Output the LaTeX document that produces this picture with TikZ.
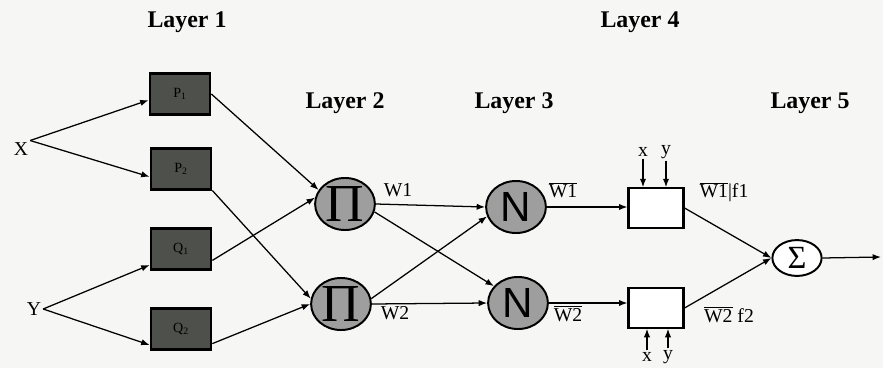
\documentclass[tikz,border=0pt]{standalone}
\usepackage{fontspec}
\setmainfont{Liberation Serif}
\newfontfamily\arialfont{Liberation Sans}
\usepackage{xcolor}
\usepackage{tikz}
\usetikzlibrary{arrows.meta, positioning, shapes.geometric}

\definecolor{boxgray}{RGB}{78,80,76}
\definecolor{nodegray}{RGB}{158,158,158}
\definecolor{paper}{RGB}{246,246,244}

\tikzset{
  layer/.style={font=\fontsize{17}{19}\selectfont\bfseries},
  lbl/.style={font=\fontsize{14}{15}\selectfont, inner sep=1pt},
  inbox/.style={draw, line width=1.6pt, fill=boxgray, minimum width=43pt, minimum height=29pt, inner sep=0pt, font=\fontsize{10}{11}\selectfont},
  prodnode/.style={ellipse, draw, line width=1.4pt, fill=nodegray, minimum width=42.5pt, minimum height=37pt, inner sep=0pt, font=\fontsize{38}{38}\selectfont},
  normnode/.style={prodnode, font=\arialfont\fontsize{30}{30}\selectfont},
  rulebox/.style={draw, line width=1.6pt, fill=white, minimum width=39pt, minimum height=28pt},
  sumnode/.style={ellipse, draw, line width=1.4pt, fill=white, minimum width=35pt, minimum height=25.5pt, inner sep=0pt, font=\fontsize{23}{23}\selectfont}
}

\begin{document}
\begin{tikzpicture}[x=0.025cm, y=-0.025cm, line width=0.9pt, >={Latex[length=6pt,width=4.5pt]}]
    \fill[paper] (0,0) rectangle (883,368);

    % Layer titles
    \node[layer] (l1) at (187,22) {Layer 1};
    \node[layer] (l2) at (345,103) {Layer 2};
    \node[layer] (l3) at (514,103) {Layer 3};
    \node[layer] (l4) at (640,22) {Layer 4};
    \node[layer] (l5) at (810,103) {Layer 5};

    % Inputs
    \node[lbl] (x) at (21,149) {X};
    \node[lbl] (y) at (34,309) {Y};

    % Layer 1
    \node[inbox] (p1) at (180,94) {P\textsubscript{1}};
    \node[inbox] (p2) at (181,169) {P\textsubscript{2}};
    \node[inbox] (q1) at (181,249) {Q\textsubscript{1}};
    \node[inbox] (q2) at (181,329) {Q\textsubscript{2}};

    % Layer 2 and 3
    \node[prodnode] (pa) at (345,204) {Π};
    \node[prodnode] (pb) at (341,304) {Π};
    \node[normnode] (na) at (516,207) {N};
    \node[normnode] (nb) at (518,303) {N};

    % Layer 4
    \node[rulebox] (ra) at (656,208) {};
    \node[rulebox] (rb) at (656,308) {};
    \node[lbl] (xa) at (643,152) {x};
    \node[lbl] (ya) at (666,152) {y};
    \node[lbl] (xb) at (647,357) {x};
    \node[lbl] (yb) at (668,357) {y};

    % Layer 5
    \node[sumnode] (s) at (797,258) {Σ};
    \coordinate (out) at (881,257);

    % Weights
    \node[lbl] (wa) at (398,190) {W1};
    \node[lbl] (wb) at (395,313) {W2};
    \node[lbl] (nwa) at (563,190) {$\overline{\mbox{W1}}$};
    \node[lbl] (nwb) at (568,314) {$\overline{\mbox{W2}}$};
    \node[lbl] (fa) at (724,192) {$\overline{\mbox{W1}}$|f1};
    \node[lbl] (fb) at (729,315) {$\overline{\mbox{W2}}$ f2};

    % Connections
    \draw[->] (x.north east) -- (p1.191);
    \draw[->] (x.north east) -- (p2.194);
    \draw[->] (y.east) -- (q1.207);
    \draw[->] (y.east) -- (q2.207);
    \draw[->] (p1.east) -- (pa.152);
    \draw[->] (q1.-20) -- (pa.168);
    \draw[->] (p2.south east) -- (pb.170);
    \draw[->] (q2.-25) -- (pb.180);
    \draw[->] (pa.east) -- (na.west);
    \draw[->] (pa.-15) -- (nb.145);
    \draw[->] (pb.10) -- (na.198);
    \draw[->] (pb.east) -- (nb.west);
    \draw[->] (na.east) -- (na.east -| ra.west);
    \draw[->] (nb.east) -- (nb.east -| rb.west);
    \draw[->] (xa) -- (xa |- ra.north);
    \draw[->] (ya) -- (ya |- ra.north);
    \draw[->] (xb) -- (xb |- rb.south);
    \draw[->] (yb) -- (yb |- rb.south);
    \draw[->] (ra.east) -- (s.west);
    \draw[->] (rb.east) -- (s.west);
    \draw[->] (s.east) -- (out);
\end{tikzpicture}
\end{document}
